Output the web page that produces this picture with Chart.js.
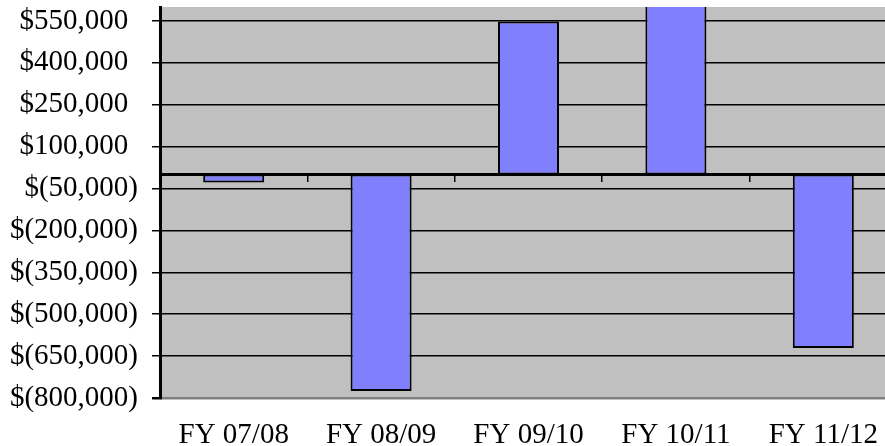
<!DOCTYPE html>
<html>
<head>
<meta charset="utf-8">
<script src="https://cdn.jsdelivr.net/npm/chart.js@4"></script>
<style>
  html, body { margin: 0; padding: 0; background: #fff; overflow: hidden; }
  #wrap { width: 885px; height: 446px; overflow: hidden; }
</style>
</head>
<body>
<div id="wrap"><canvas id="chart" width="900" height="446"></canvas></div>
<script>
// data
const categories = ['FY 07/08', 'FY 08/09', 'FY 09/10', 'FY 10/11', 'FY 11/12'];
const netValues = [-28000, -775000, 548000, 640000, -621000];
const yTickValues = [-800000, -650000, -500000, -350000, -200000, -50000, 100000, 250000, 400000, 550000];

const serif = "'Liberation Serif', 'Times New Roman', serif";

function money(v) {
    const s = Math.abs(v).toLocaleString('en-US');
    return v < 0 ? '$(' + s + ')' : '$' + s + '\u2004';
}

// grey plot area like the spreadsheet chart
const plotBackground = {
    id: 'plotBackground',
    beforeDraw(chart) {
        const a = chart.chartArea;
        const c = chart.ctx;
        c.save();
        c.fillStyle = '#c0c0c0';
        c.fillRect(a.left, a.top, a.right - a.left, a.bottom - a.top);
        c.restore();
    }
};

const ctx = document.getElementById('chart');
const chart = new Chart(ctx.getContext('2d'), {
    type: 'bar',
    data: {
        labels: categories,
        datasets: [{
            data: netValues,
            backgroundColor: '#8080ff',
            borderColor: '#000000',
            borderWidth: 2,
            borderSkipped: false,
            categoryPercentage: 1,
            barPercentage: 0.414
        }]
    },
    options: {
        responsive: false,
        animation: false,
        layout: { padding: { top: 7, right: 3, left: 0, bottom: 0 } },
        plugins: {
            legend: { display: false },
            tooltip: { enabled: false }
        },
        scales: {
            x: {
                position: 'bottom',
                grid: { display: false, drawTicks: false },
                border: { display: false },
                ticks: {
                    color: '#000',
                    font: { family: serif, size: 29, lineHeight: 1 },
                    padding: 23,
                    maxRotation: 0,
                    autoSkip: false
                },
                afterFit(scale) {
                    scale.height = 48;
                    scale.paddingLeft = 0;
                    scale.paddingRight = 0;
                }
            },
            x2: {
                type: 'category',
                position: { y: 0 },
                offset: true,
                z: 1,
                grid: { offset: true, drawOnChartArea: false, drawTicks: true, tickLength: 6, color: '#000', lineWidth: 1.5 },
                border: { display: true, color: '#000', width: 3 },
                ticks: { display: false }
            },
            y: {
                min: -800000,
                max: 600000,
                afterBuildTicks(scale) {
                    scale.ticks = yTickValues.map(v => ({ value: v }));
                },
                afterFit(scale) {
                    scale.width = 160;
                    scale.paddingTop = 0;
                    scale.paddingBottom = 0;
                },
                grid: {
                    color: c => (c.tick && c.tick.value === -800000 ? '#808080' : '#000'),
                    lineWidth: c => (c.tick && c.tick.value === -800000 ? 2.5 : 1.5),
                    tickColor: '#000',
                    tickLength: 8
                },
                border: { display: true, color: '#000', width: 3 },
                ticks: {
                    color: '#000',
                    font: { family: serif, size: 29 },
                    padding: 14,
                    callback: v => money(v)
                }
            }
        }
    },
    plugins: [plotBackground]
});
</script>
</body>
</html>
